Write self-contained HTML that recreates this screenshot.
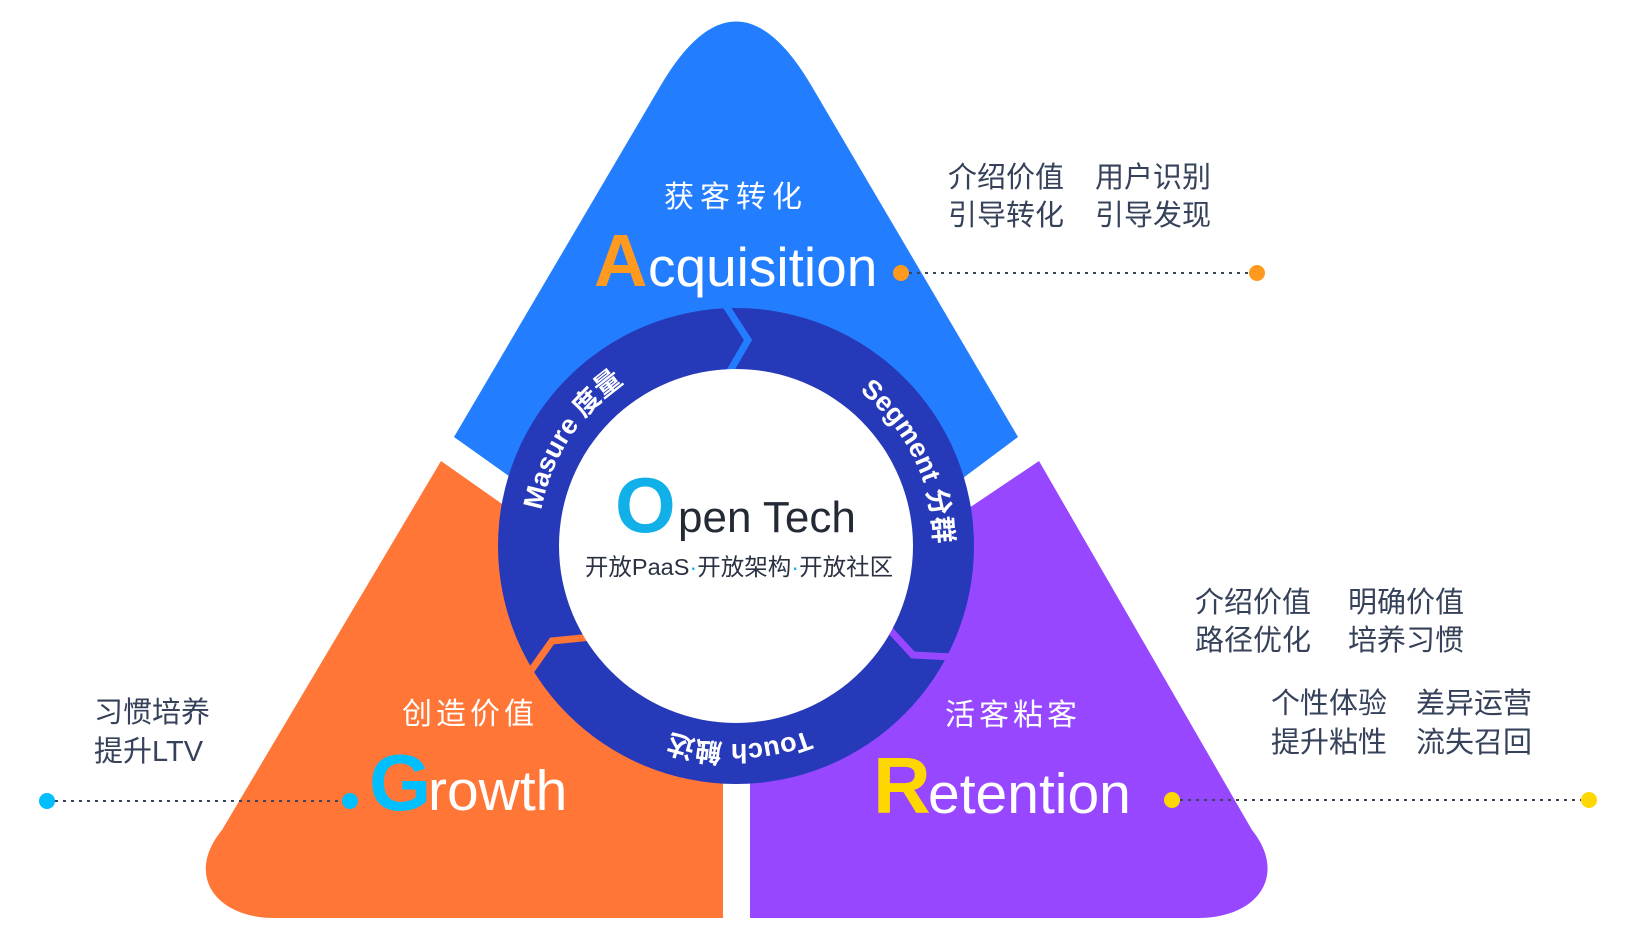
<!DOCTYPE html>
<html><head><meta charset="utf-8"><style>
html,body{margin:0;padding:0;background:#fff;}
svg{display:block;}
.cn{font-family:"Liberation Sans","Noto Sans CJK SC",sans-serif;}
</style></head><body>
<svg width="1637" height="941" viewBox="0 0 1637 941" xmlns="http://www.w3.org/2000/svg" class="cn">
<!-- blue top piece -->
<path d="M454,437 L661,85 Q736,-42 811,85 L1018,437 L955,484 L736,560 L520,484 Z" fill="#237dff"/>
<!-- orange piece -->
<path d="M441,461 L505,506 L723,600 L723,918 L275,918 C215,918 185,875 222,830 Z" fill="#ff7637"/>
<!-- purple piece -->
<path d="M1039,461 L972,506 L750,600 L750,918 L1198,918 C1258,918 1288,875 1252,830 Z" fill="#9747ff"/>
<!-- ring -->
<circle cx="736" cy="546" r="238" fill="#2639b8"/>
<polyline points="726,306 748,340 730,371" fill="none" stroke="#237dff" stroke-width="7"/>
<polyline points="592,637 552,641 530,672" fill="none" stroke="#ff7637" stroke-width="7"/>
<polyline points="889,629 913,655 952,657" fill="none" stroke="#9747ff" stroke-width="7"/>
<circle cx="736" cy="546" r="177" fill="#fff"/>
<defs>
<path id="pm" d="M539.5,570.1 A198,198 0 0 1 678.1,356.7"/>
<path id="ps" d="M816.5,365.1 A198,198 0 0 1 928.1,593.9"/>
<path id="pt" d="M865.9,695.4 A198,198 0 0 1 611.4,699.9"/>
</defs>
<g fill="#fff" font-weight="bold" font-size="27">
<text><textPath href="#pm" startOffset="50%" text-anchor="middle">Masure 度量</textPath></text>
<text><textPath href="#ps" startOffset="50%" text-anchor="middle">Segment 分群</textPath></text>
<text><textPath href="#pt" startOffset="50%" text-anchor="middle">Touch 触达</textPath></text>
</g>
<!-- center -->
<text x="615" y="532" font-size="78" font-weight="bold" fill="#12b0e8">O</text>
<text x="678" y="532" font-size="44" fill="#232a36">pen Tech</text>
<text x="739" y="575" font-size="23.5" fill="#2a3142" text-anchor="middle">开放PaaS<tspan fill="#12b0e8">·</tspan>开放架构<tspan fill="#12b0e8">·</tspan>开放社区</text>
<!-- acquisition -->
<text x="736" y="207" font-size="30" fill="#fff" text-anchor="middle" letter-spacing="6">获客转化</text>
<text x="594" y="286" font-size="74" font-weight="bold" fill="#ff9a1f">A</text>
<text x="648" y="286" font-size="55" fill="#fff">cquisition</text>
<line x1="909" y1="273" x2="1250" y2="273" stroke="#3b4558" stroke-width="2" stroke-dasharray="3 5"/>
<circle cx="901" cy="273" r="8" fill="#ff9a1f"/><circle cx="1257" cy="273" r="8" fill="#ff9a1f"/>
<g font-size="29" fill="#36415a">
<text x="948" y="187">介绍价值<tspan x="1095">用户识别</tspan></text>
<text x="948" y="225">引导转化<tspan x="1095">引导发现</tspan></text>
</g>
<!-- growth -->
<text x="470" y="724" font-size="30" fill="#fff" text-anchor="middle" letter-spacing="4">创造价值</text>
<text x="369" y="810" font-size="80" font-weight="bold" fill="#00bfff">G</text>
<text x="428" y="810" font-size="57" fill="#fff">rowth</text>
<line x1="55" y1="801" x2="342" y2="801" stroke="#3b4558" stroke-width="2" stroke-dasharray="3 5"/>
<circle cx="47" cy="801" r="8" fill="#00bfff"/><circle cx="350" cy="801" r="8" fill="#00bfff"/>
<g font-size="29" fill="#36415a">
<text x="94" y="722">习惯培养</text>
<text x="94" y="761">提升LTV</text>
</g>
<!-- retention -->
<text x="1013" y="725" font-size="30" fill="#fff" text-anchor="middle" letter-spacing="4">活客粘客</text>
<text x="873" y="813" font-size="80" font-weight="bold" fill="#ffd700">R</text>
<text x="928" y="813" font-size="57" fill="#fff">etention</text>
<line x1="1180" y1="800" x2="1582" y2="800" stroke="#3b4558" stroke-width="2" stroke-dasharray="3 5"/>
<circle cx="1172" cy="800" r="8" fill="#ffd700"/><circle cx="1589" cy="800" r="8" fill="#ffd700"/>
<g font-size="29" fill="#36415a">
<text x="1195" y="612">介绍价值<tspan x="1348">明确价值</tspan></text>
<text x="1195" y="650">路径优化<tspan x="1348">培养习惯</tspan></text>
<text x="1271" y="713">个性体验<tspan x="1416">差异运营</tspan></text>
<text x="1271" y="752">提升粘性<tspan x="1416">流失召回</tspan></text>
</g>
</svg>
</body></html>
